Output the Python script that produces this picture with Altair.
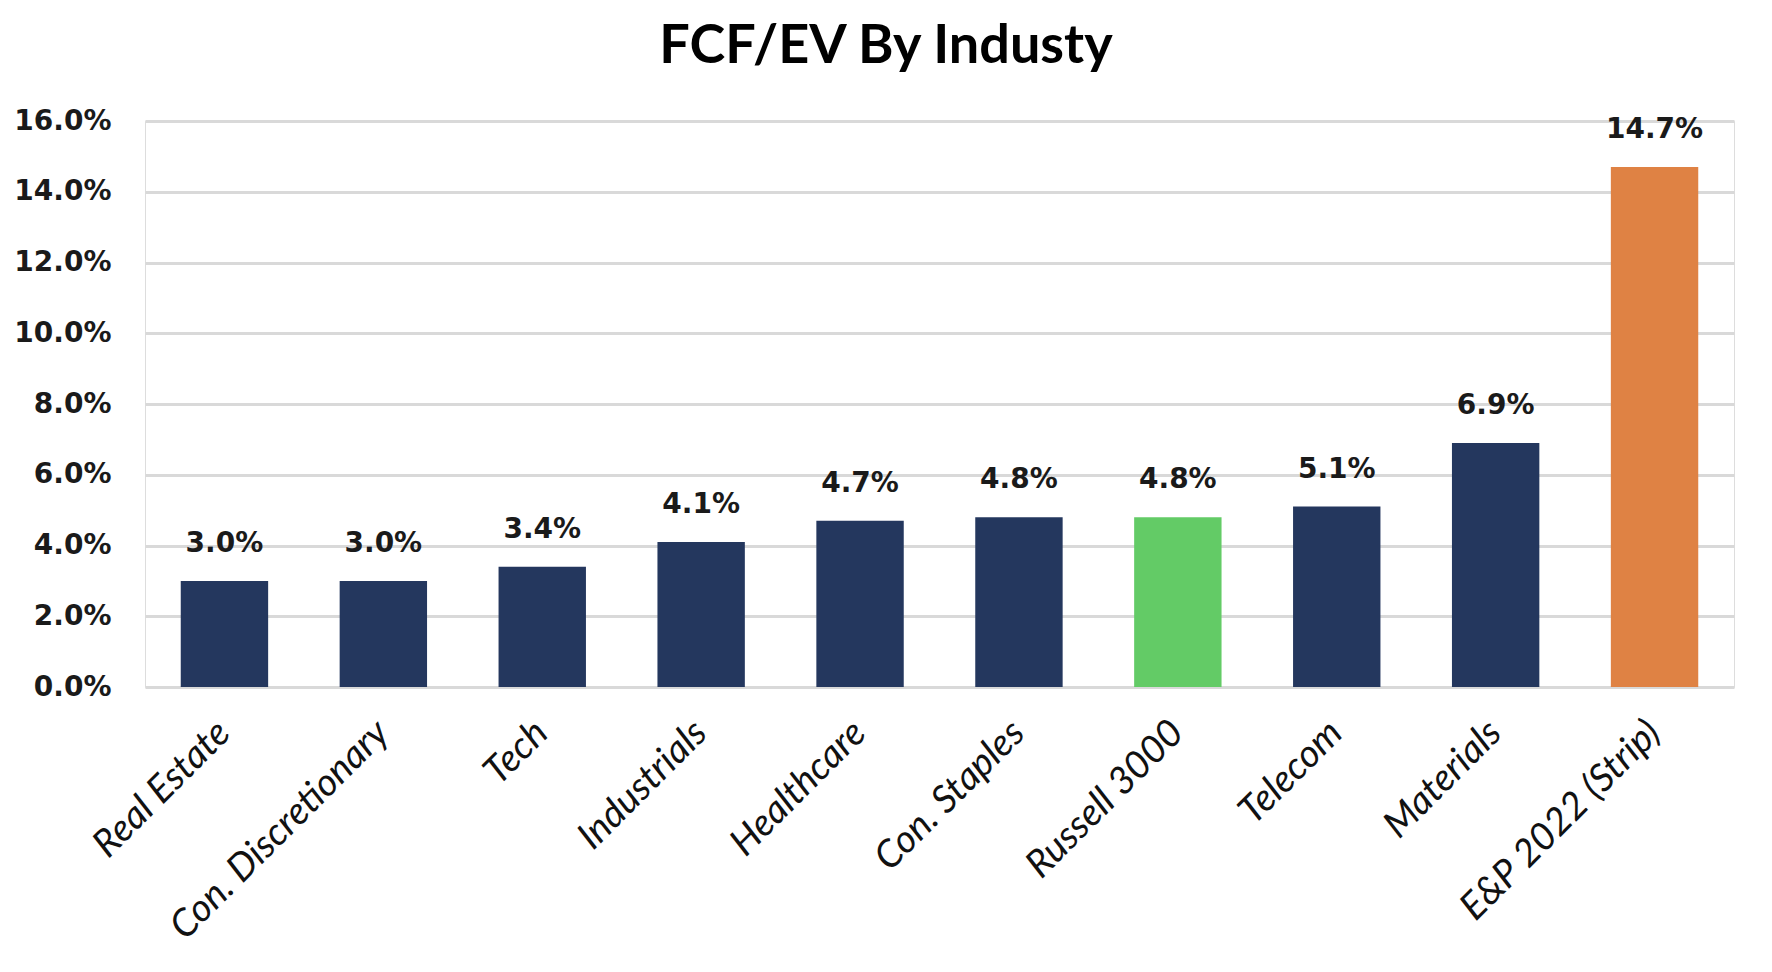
import altair as alt
import pandas as pd

categories = ["Real Estate", "Con. Discretionary", "Tech", "Industrials", "Healthcare",
              "Con. Staples", "Russell 3000", "Telecom", "Materials", "E&P 2022 (Strip)"]
values = [3.0, 3.0, 3.4, 4.1, 4.7, 4.8, 4.8, 5.1, 6.9, 14.7]
groups = ["Sector", "Sector", "Sector", "Sector", "Sector",
          "Sector", "Index", "Sector", "Sector", "E&P"]
y_ticks = [0, 2, 4, 6, 8, 10, 12, 14, 16]

df = pd.DataFrame({"cat": categories, "val": [v / 100 for v in values], "grp": groups})

x_enc = alt.X("cat:N", sort=categories, title=None,
              scale=alt.Scale(paddingInner=0.45, paddingOuter=0.225),
              axis=alt.Axis(labelAngle=-45, labelAlign="right", labelBaseline="middle",
                            labelFont="Lato", labelFontStyle="italic", labelFontSize=38,
                            labelColor="#111111", labelPadding=40, ticks=False, domain=False,
                            labelLimit=500))
y_enc = alt.Y("val:Q", title=None,
              scale=alt.Scale(domain=[0, 0.16], nice=False),
              axis=alt.Axis(values=[t / 100 for t in y_ticks], format=".1%",
                            labelFont="DejaVu Sans", labelFontWeight="bold", labelFontSize=28,
                            labelColor="#1a1a1a", labelPadding=34, ticks=False, domain=False,
                            grid=True, gridColor="#d9d9d9", gridWidth=3))

bars = alt.Chart(df).mark_bar().encode(
    x=x_enc, y=y_enc,
    color=alt.Color("grp:N", legend=None,
                    scale=alt.Scale(domain=["Sector", "Index", "E&P"],
                                    range=["#24375e", "#63cb66", "#df8244"])),
)
labels = alt.Chart(df).mark_text(font="DejaVu Sans", fontWeight="bold", fontSize=28,
                                 baseline="bottom", dy=-23, color="#1a1a1a").encode(
    x=alt.X("cat:N", sort=categories), y="val:Q",
    text=alt.Text("val:Q", format=".1%"))

chart = (bars + labels).properties(
    width=1589, height=566,
    padding={"top": 12, "left": 5, "right": 5, "bottom": 5},
    title=alt.TitleParams("FCF/EV  By Industy", font="Lato", fontWeight="bold",
                          fontSize=54, color="#000000", offset=33, anchor="middle",
                          frame="bounds", dx=12),
).configure_view(stroke=None).configure(background="white")

chart.save("out.html", embed_options={"renderer": "svg", "actions": False})
